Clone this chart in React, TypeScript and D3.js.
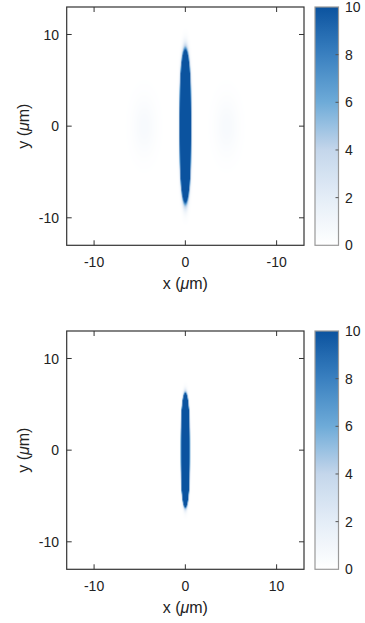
import * as d3 from "d3";
import React, { useMemo } from "react";

const W = 365;
const H = 623;

// axis range and ticks (um)
const domain = [-13, 13];
const tickValues = [-10, 0, 10];
const xTickLabelsTop = ["-10", "0", "-10"];
const xTickLabelsBottom = ["-10", "0", "10"];
const yTickLabels = ["-10", "0", "10"];
const colorTicks = [0, 2, 4, 6, 8, 10];

// colour map
const colorStops = [0, 2, 4, 6, 8, 10];
const colorValues = ["#ffffff", "#e4edf7", "#c4d6eb", "#6eabd8", "#3a80c0", "#0b539f"];

// intensity lobes: centre, width, y-profile order, peak (the centre saturates the colour bar)
const topLobeX = [0, -4.5, 4.5];
const topLobeY = [0, 0, 0];
const topLobeSx = [0.274, 1.2, 1.2];
const topLobeSy = [4.92, 3.0, 3.0];
const topLobePy = [3, 2, 2];
const topLobePeak = [1235, 0.6, 0.6];

const botLobeX = [0];
const botLobeY = [0];
const botLobeSx = [0.18];
const botLobeSy = [3.24];
const botLobePy = [3];
const botLobePeak = [11000];

const plotLeft = 66.7;
const plotRight = 304;
const cbLeft = 315;
const cbRight = 338.5;
const panelTops = [7, 331];
const panelSize = 238.3;

const color = d3
  .scaleLinear<string>()
  .domain(colorStops)
  .range(colorValues)
  .interpolate(d3.interpolateRgb)
  .clamp(true);

function fieldImage(
  lx: number[],
  ly: number[],
  sx: number[],
  sy: number[],
  py: number[],
  pk: number[],
  n: number
) {
  const canvas = document.createElement("canvas");
  canvas.width = n;
  canvas.height = n;
  const ctx = canvas.getContext("2d")!;
  const img = ctx.createImageData(n, n);
  const gx = d3.scaleLinear().domain([0, n]).range(domain);
  const gy = d3.scaleLinear().domain([0, n]).range([domain[1], domain[0]]);
  for (let j = 0; j < n; j++) {
    for (let i = 0; i < n; i++) {
      const x = gx(i + 0.5);
      const y = gy(j + 0.5);
      let v = 0;
      for (let k = 0; k < lx.length; k++) {
        const dx = (x - lx[k]) / sx[k];
        const dy = Math.abs((y - ly[k]) / sy[k]);
        v += pk[k] * Math.exp(-(dx * dx + Math.pow(dy, py[k])));
      }
      const c = d3.rgb(color(Math.min(v, 10)));
      const o = (j * n + i) * 4;
      img.data[o] = c.r;
      img.data[o + 1] = c.g;
      img.data[o + 2] = c.b;
      img.data[o + 3] = 255;
    }
  }
  ctx.putImageData(img, 0, 0);
  return canvas.toDataURL();
}

function Panel({ top, href, xLabels }: { top: number; href: string; xLabels: string[] }) {
  const x = d3.scaleLinear().domain(domain).range([plotLeft, plotRight]);
  const y = d3.scaleLinear().domain(domain).range([top + panelSize, top]);
  const cb = d3.scaleLinear().domain([0, 10]).range([top + panelSize, top]);
  const bottom = top + panelSize;
  const tl = 5;
  const font = "'Liberation Sans', Arial, sans-serif";
  const gradId = `cb${top}`;
  const stops = d3.range(0, 10.01, 0.5);

  return (
    <g fontFamily={font} fill="#222">
      <defs>
        <linearGradient id={gradId} x1="0" y1="1" x2="0" y2="0">
          {stops.map((s) => (
            <stop key={s} offset={s / 10} stopColor={color(s)} />
          ))}
        </linearGradient>
      </defs>
      <image
        href={href}
        x={plotLeft}
        y={top}
        width={plotRight - plotLeft}
        height={panelSize}
        preserveAspectRatio="none"
      />
      <rect
        x={plotLeft}
        y={top}
        width={plotRight - plotLeft}
        height={panelSize}
        fill="none"
        stroke="#333"
        strokeWidth={1.2}
      />
      {tickValues.map((t, i) => (
        <g key={"x" + i} stroke="#333" strokeWidth={1}>
          <line x1={x(t)} x2={x(t)} y1={bottom} y2={bottom - tl} />
          <line x1={x(t)} x2={x(t)} y1={top} y2={top + tl} />
          <line x1={plotLeft} x2={plotLeft + tl} y1={y(t)} y2={y(t)} />
          <line x1={plotRight} x2={plotRight - tl} y1={y(t)} y2={y(t)} />
        </g>
      ))}
      {tickValues.map((t, i) => (
        <text key={"xl" + i} x={x(t)} y={bottom + 22} textAnchor="middle" fontSize={14}>
          {xLabels[i]}
        </text>
      ))}
      {tickValues.map((t, i) => (
        <text key={"yl" + i} x={59} y={y(t)} dy="0.36em" textAnchor="end" fontSize={14}>
          {yTickLabels[i]}
        </text>
      ))}
      <text x={(plotLeft + plotRight) / 2} y={bottom + 44} textAnchor="middle" fontSize={16}>
        x (<tspan fontStyle="italic">μ</tspan>m)
      </text>
      <text
        transform={`translate(29,${(top + bottom) / 2}) rotate(-90)`}
        textAnchor="middle"
        fontSize={16}
      >
        y (<tspan fontStyle="italic">μ</tspan>m)
      </text>
      <rect
        x={cbLeft}
        y={top}
        width={cbRight - cbLeft}
        height={panelSize}
        fill={`url(#${gradId})`}
        stroke="#999"
        strokeWidth={1.2}
      />
      {colorTicks.map((t) => (
        <g key={"c" + t}>
          {t > 0 && t < 10 && (
            <line x1={cbRight} x2={cbRight - 3} y1={cb(t)} y2={cb(t)} stroke="#555" />
          )}
          <text x={cbRight + 6.5} y={cb(t)} dy="0.36em" fontSize={14}>
            {t}
          </text>
        </g>
      ))}
    </g>
  );
}

export default function App() {
  const n = 238;
  const topImg = useMemo(
    () => fieldImage(topLobeX, topLobeY, topLobeSx, topLobeSy, topLobePy, topLobePeak, n),
    []
  );
  const botImg = useMemo(
    () => fieldImage(botLobeX, botLobeY, botLobeSx, botLobeSy, botLobePy, botLobePeak, n),
    []
  );
  return (
    <svg
      width={W}
      height={H}
      style={{ position: "absolute", left: 0, top: 0, background: "#fff" }}
    >
      <rect width={W} height={H} fill="#fff" />
      <Panel top={panelTops[0]} href={topImg} xLabels={xTickLabelsTop} />
      <Panel top={panelTops[1]} href={botImg} xLabels={xTickLabelsBottom} />
    </svg>
  );
}
